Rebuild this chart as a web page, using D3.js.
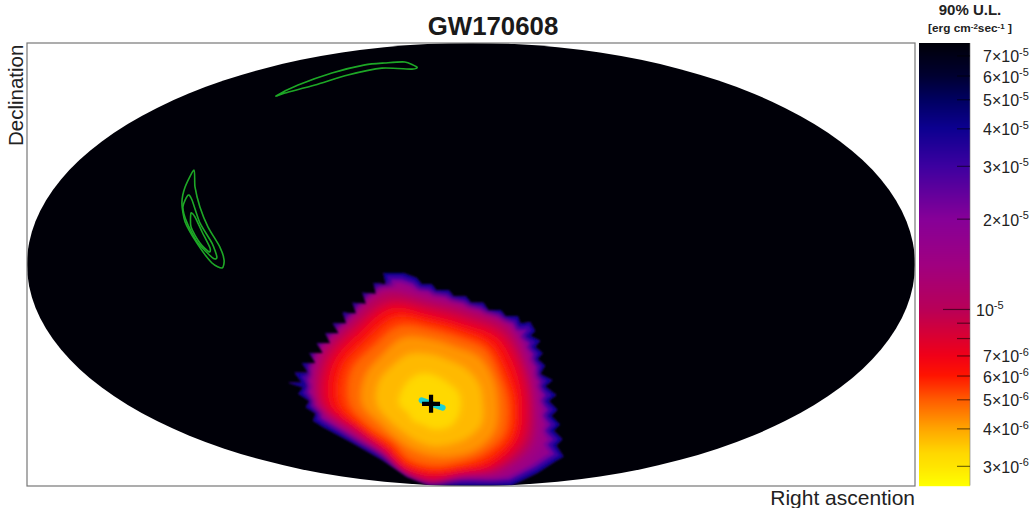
<!DOCTYPE html>
<html>
<head>
<meta charset="utf-8">
<script src="https://cdn.jsdelivr.net/npm/d3@7"></script>
<style>
  html, body { margin: 0; padding: 0; background: #fff; }
  svg { display: block; font-family: "Liberation Sans", Arial, sans-serif; }
</style>
</head>
<body>
<svg id="chart" width="1034" height="508"></svg>
<script>
// colour bar: upper limit -> colour
const colorValues = [2.58e-6, 3e-6, 3.3e-6, 4e-6, 5e-6, 6e-6, 7e-6, 1e-5, 1.4e-5, 2e-5, 3e-5, 4e-5, 5e-5, 6e-5, 7.7e-5];
const colorStops = ["#ffff00", "#ffe400", "#ffd800", "#ffa400", "#ff5a00", "#ff1400", "#f00018", "#b80058", "#a00080", "#860098", "#3c00a0", "#0c0090", "#000060", "#000030", "#000008"];

const tickValues = [7e-5, 6e-5, 5e-5, 4e-5, 3e-5, 2e-5, 1e-5, 9e-6, 8e-6, 7e-6, 6e-6, 5e-6, 4e-6, 3e-6];
const tickLabels = [
  { v: 7e-5, m: "7×", e: "-5" }, { v: 6e-5, m: "6×", e: "-5" }, { v: 5e-5, m: "5×", e: "-5" },
  { v: 4e-5, m: "4×", e: "-5" }, { v: 3e-5, m: "3×", e: "-5" }, { v: 2e-5, m: "2×", e: "-5" },
  { v: 1e-5, m: "", e: "-5" }, { v: 7e-6, m: "7×", e: "-6" }, { v: 6e-6, m: "6×", e: "-6" },
  { v: 5e-6, m: "5×", e: "-6" }, { v: 4e-6, m: "4×", e: "-6" }, { v: 3e-6, m: "3×", e: "-6" }
];

// limit map: outer edge of the covered region, [projected lon, projected lat] in degrees
const regionEdge = [
  [-74, -48], [-68.5, -48], [-71.5, -44], [-66, -44], [-68.5, -40], [-63, -40], [-65.5, -36], [-60, -36],
  [-62.5, -32], [-57, -32], [-59, -28], [-53.5, -28], [-56, -24], [-50.5, -24], [-52, -19.5], [-46.5, -20],
  [-48, -15.5], [-42.5, -16], [-44, -11.5], [-38.5, -12], [-39.5, -7.5], [-34.5, -8], [-35.5, -3.5], [-31, -3.5],
  [-27.5, -3.5], [-22, -5.5], [-20, -8], [-16, -8], [-14, -10.5], [-9, -10.5], [-7, -13], [-2, -13],
  [0, -15.5], [5, -15.5], [7, -18.5], [12, -18.5], [14, -21], [19, -21], [20, -24], [24, -23.5],
  [26, -27], [24, -29], [28, -31], [26, -33.5], [29, -36], [27, -38.5], [30, -41], [28, -44.5],
  [33, -47], [30, -49.5], [34.5, -53], [31.5, -55.5], [35, -59], [32.5, -61.5], [36, -65], [33.5, -67.5],
  [37, -71], [34.5, -73.5], [37.5, -78], [34, -80], [27, -84.6], [16, -90], [-17, -90], [-26, -86.3],
  [-36, -79.4], [-48, -72.5], [-60, -66], [-64, -63.5], [-63, -60.5], [-67, -58], [-65.5, -55.5], [-70, -52.5], [-68, -50]
];

// iso-limit rings round the best position: distance in degrees along each direction
const ringCenter = [-16.2, -56.6];
const ringAngles = [0, 22.5, 45, 67.5, 90, 112.5, 135, 157.5, 180, 202.5, 225, 247.5, 270, 292.5, 315, 337.5];
const ringValues = [1.4e-5, 1e-5, 8e-6, 6.5e-6, 5.5e-6, 4.8e-6, 4.2e-6, 3.7e-6, 3.3e-6];
const ringRadii = [
  [45, 45, 46, 43, 45, 52, 49, 52, 48, 35, 29, 31, 33, 33, 42, 48],
  [42, 42, 44, 41, 42, 49, 47, 49, 46, 33, 28, 30, 32, 32, 39, 44],
  [40, 40, 41, 38, 39, 45, 44, 46, 44, 31, 27, 29, 31, 31, 37, 41],
  [37, 37, 38, 35, 36, 42, 41, 43, 41, 30, 26, 28, 29, 30, 35, 38],
  [34, 33, 34, 32, 33, 38, 37, 39, 37, 28, 24, 26, 27, 28, 32, 35],
  [31, 30, 31, 29, 30, 34, 33, 35, 33, 26, 22, 24, 25, 26, 29, 32],
  [27, 27, 27, 25, 26, 29, 28, 29, 28, 22, 20, 20, 21, 23, 26, 28],
  [21, 21, 20, 19, 20, 22, 22, 23, 22, 18, 16, 16, 17, 18, 20, 22],
  [12, 12, 11, 11, 12, 13, 13, 13, 13, 10, 10, 9, 10, 11, 12, 12]
];

// GW localisation contours
const gwContours = [
  [[-112.3, 38.4], [-115.9, 31.5], [-117.2, 25], [-115.9, 17.3], [-111.1, 8.7], [-105, 0.6], [-100.9, -1.4], [-100.1, 1.8], [-101.8, 7.1], [-106.6, 15.2], [-109.9, 23.4], [-111.9, 31.5]],
  [[-114.7, 28.2], [-116.8, 23.4], [-115.1, 16.9], [-110.7, 8.7], [-104.6, 2.6], [-103, 3], [-105, 8.7], [-109.9, 16.9], [-113.1, 26.2]],
  [[-113.5, 20.9], [-113.5, 15.2], [-109.9, 8.7], [-106.2, 5.1], [-105.8, 6.7], [-109, 13.2], [-111.9, 19.3]],
  [[-79, 68.5], [-70.1, 72.9], [-56.4, 77.8], [-43, 81.1], [-34.9, 81.9], [-26.8, 82.3], [-21.9, 80.2], [-23.9, 79.4], [-36.1, 79.8], [-49.9, 77], [-63.2, 72.9], [-75.4, 69.7]]
];
const bestArc = [[-20, -55.2], [-11.5, -58.2]];
const bestPosition = [-16.2, -56.6];

const plot = { left: 27, right: 915, top: 43, bottom: 486 };
const bar = { left: 919, right: 970, top: 43, bottom: 485.5 };

const svg = d3.select("#chart");
const x = d3.scaleLinear().domain([-180, 180]).range([plot.left, plot.right]);
const y = d3.scaleLinear().domain([-90, 90]).range([plot.bottom, plot.top]);
const color = d3.scaleLog().domain(colorValues).range(colorStops).interpolate(d3.interpolateRgb);
const barY = d3.scaleLog().domain([2.58e-6, 7.7e-5]).range([bar.bottom, bar.top]);

const defs = svg.append("defs");
defs.append("filter").attr("id", "soft").attr("x", "-10%").attr("y", "-10%").attr("width", "120%").attr("height", "120%")
  .append("feGaussianBlur").attr("stdDeviation", 3);
defs.append("filter").attr("id", "softEdge").attr("x", "-10%").attr("y", "-10%").attr("width", "120%").attr("height", "120%")
  .append("feGaussianBlur").attr("stdDeviation", 1);
defs.append("filter").attr("id", "softLine").attr("x", "-20%").attr("y", "-20%").attr("width", "140%").attr("height", "140%")
  .append("feGaussianBlur").attr("stdDeviation", 0.35);
defs.append("clipPath").attr("id", "skyClip")
  .append("ellipse").attr("cx", x(0)).attr("cy", y(0))
  .attr("rx", x(180) - x(0)).attr("ry", y(-90) - y(0));

const edgeLine = d3.line().x(d => x(d[0])).y(d => y(d[1])).curve(d3.curveLinearClosed);
const edgePath = edgeLine(regionEdge);
defs.append("clipPath").attr("id", "edgeClip").append("path").attr("d", edgePath);

// sky
svg.append("ellipse")
  .attr("cx", x(0)).attr("cy", y(0))
  .attr("rx", x(180) - x(0)).attr("ry", y(-90) - y(0))
  .attr("fill", color(7.7e-5));

const sky = svg.append("g").attr("clip-path", "url(#skyClip)");
const blurred = sky.append("g").attr("filter", "url(#softEdge)");
const region = blurred.append("g").attr("clip-path", "url(#edgeClip)");

region.append("path").attr("d", edgePath).attr("fill", color(1.7e-5));
// dark bands follow the toothed edge
[[2.2e-5, 20], [3e-5, 13], [3.9e-5, 6]].forEach(function (band) {
  region.append("path").attr("d", edgePath)
    .attr("fill", "none")
    .attr("stroke", color(band[0]))
    .attr("stroke-width", band[1])
    .attr("stroke-linejoin", "miter");
});

const ringLine = d3.line()
  .x(d => x(d[0])).y(d => y(d[1]))
  .curve(d3.curveCatmullRomClosed.alpha(0.5));
const rings = region.append("g").attr("filter", "url(#soft)");
ringRadii.forEach(function (radii, i) {
  const pts = radii.map(function (r, j) {
    const a = ringAngles[j] * Math.PI / 180;
    return [ringCenter[0] + r * Math.cos(a), ringCenter[1] + r * Math.sin(a)];
  });
  rings.append("path").attr("d", ringLine(pts)).attr("fill", color(ringValues[i]));
});

// contours
const contourLine = d3.line().x(d => x(d[0])).y(d => y(d[1])).curve(d3.curveCardinalClosed.tension(0.3));
sky.append("g").attr("filter", "url(#softLine)")
  .selectAll("path.gw").data(gwContours).enter().append("path")
  .attr("class", "gw")
  .attr("d", contourLine)
  .attr("fill", "none")
  .attr("stroke", "#1fa826")
  .attr("stroke-width", 1.6);

// best position
svg.append("path")
  .attr("d", d3.line().x(d => x(d[0])).y(d => y(d[1]))(bestArc))
  .attr("stroke", "#19d0d8").attr("stroke-width", 6).attr("stroke-linecap", "round").attr("fill", "none");
const cx = x(bestPosition[0]), cy = y(bestPosition[1]);
svg.append("path")
  .attr("d", "M" + (cx - 9) + "," + cy + "H" + (cx + 9) + "M" + cx + "," + (cy - 9) + "V" + (cy + 9))
  .attr("stroke", "#000").attr("stroke-width", 4.2).attr("fill", "none");

// frame
svg.append("rect")
  .attr("x", plot.left).attr("y", plot.top)
  .attr("width", plot.right - plot.left).attr("height", plot.bottom - plot.top)
  .attr("fill", "none").attr("stroke", "#777").attr("stroke-width", 1.2);

// colour bar
const barSteps = d3.range(bar.top, bar.bottom, 1);
svg.append("g").selectAll("rect").data(barSteps).enter().append("rect")
  .attr("x", bar.left).attr("y", d => d)
  .attr("width", bar.right - bar.left).attr("height", 1.2)
  .attr("fill", d => color(barY.invert(d + 0.5)));
svg.append("line")
  .attr("x1", bar.right).attr("x2", bar.right).attr("y1", bar.top).attr("y2", bar.bottom)
  .attr("stroke", "#777").attr("stroke-opacity", 0.6).attr("stroke-width", 1);

const barAxis = d3.axisLeft(barY).tickValues(tickValues).tickFormat("").tickSizeOuter(0)
  .tickSize(13);
const axisG = svg.append("g").attr("transform", "translate(" + bar.right + ",0)").call(barAxis);
axisG.select(".domain").remove();
axisG.selectAll(".tick line")
  .attr("stroke", "#000").attr("stroke-opacity", 0.55).attr("stroke-width", 1.2)
  .attr("x2", d => d === 1e-5 ? -27 : -13);

const labels = svg.append("g").selectAll("text").data(tickLabels).enter().append("text")
  .attr("x", d => d.m ? 983 : 976)
  .attr("y", d => barY(d.v) + 7)
  .attr("font-size", 16)
  .attr("fill", "#222");
labels.append("tspan").text(d => d.m + "10");
labels.append("tspan").attr("dy", -6.5).attr("font-size", 11).text(d => d.e);

// titles
svg.append("text").attr("x", 493).attr("y", 35).attr("text-anchor", "middle")
  .attr("font-size", 25.8).attr("font-weight", "bold").attr("fill", "#1a1a1a").text("GW170608");
svg.append("text").attr("transform", "translate(23,146) rotate(-90)")
  .attr("font-size", 20.5).attr("fill", "#222").text("Declination");
svg.append("text").attr("x", 915).attr("y", 505).attr("text-anchor", "end")
  .attr("font-size", 21).attr("fill", "#222").text("Right ascention");

svg.append("text").attr("x", 970).attr("y", 15).attr("text-anchor", "middle")
  .attr("font-size", 15).attr("font-weight", "bold").attr("fill", "#222").text("90% U.L.");
const unit = svg.append("text").attr("x", 970).attr("y", 32).attr("text-anchor", "middle")
  .attr("font-size", 11.8).attr("font-weight", "bold").attr("fill", "#222");
unit.append("tspan").text("[erg cm");
unit.append("tspan").attr("dy", -3.5).attr("font-size", 8).text("-2");
unit.append("tspan").attr("dy", 3.5).text("sec");
unit.append("tspan").attr("dy", -3.5).attr("font-size", 8).text("-1");
unit.append("tspan").attr("dy", 3.5).text(" ]");
</script>
</body>
</html>
